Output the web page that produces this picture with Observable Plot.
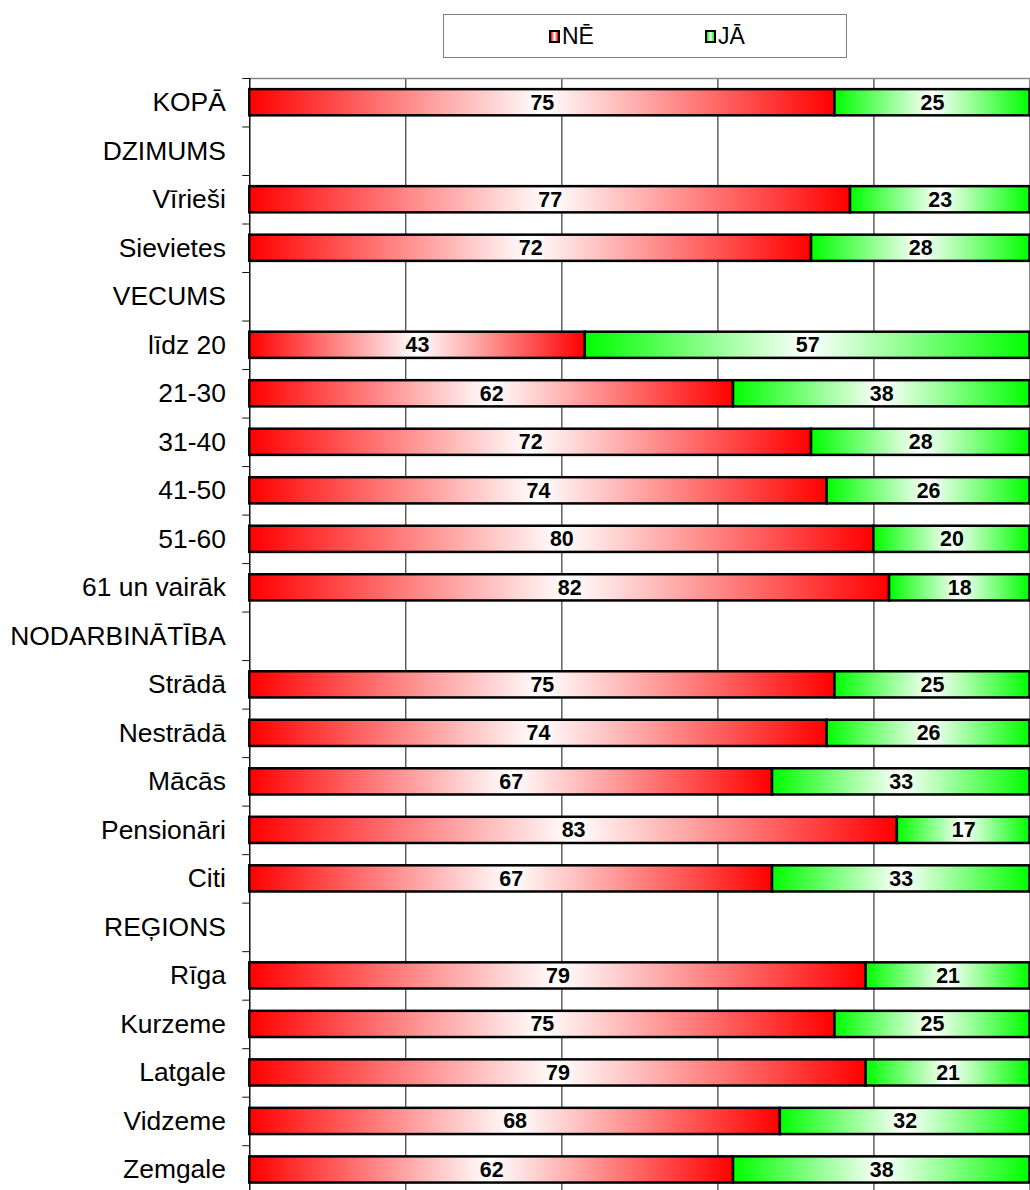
<!DOCTYPE html>
<html>
<head>
<meta charset="utf-8">
<script src="https://cdn.jsdelivr.net/npm/d3@7"></script>
<script src="https://cdn.jsdelivr.net/npm/@observablehq/plot@0.6"></script>
<style>
  html, body { margin: 0; padding: 0; background: #fff; overflow: hidden; }
  body { font-family: "Liberation Sans", Arial, sans-serif; width: 1030px; }
  #legend { position: relative; height: 70px; }
  #legend .box { position: absolute; left: 443px; top: 14px; width: 404px; height: 44px;
    border: 1px solid #808080; box-sizing: border-box; background: #fff; }
  #legend .item { position: absolute; top: 0; height: 42px; display: flex; align-items: center;
    font-size: 23px; color: #000; }
  #legend .swatch { width: 7px; height: 9px; border: 2px solid #000; margin-right: 2px; }
  #chart { position: relative; }
</style>
</head>
<body>
<div id="legend"></div>
<div id="chart"></div>
<script>
// ---- data ----
const categories = ["KOPĀ", "DZIMUMS", "Vīrieši", "Sievietes", "VECUMS", "līdz 20", "21-30", "31-40",
  "41-50", "51-60", "61 un vairāk", "NODARBINĀTĪBA", "Strādā", "Nestrādā", "Mācās", "Pensionāri",
  "Citi", "REĢIONS", "Rīga", "Kurzeme", "Latgale", "Vidzeme", "Zemgale"];
const seriesNames = ["NĒ", "JĀ"];
const ne = [75, null, 77, 72, null, 43, 62, 72, 74, 80, 82, null, 75, 74, 67, 83, 67, null, 79, 75, 79, 68, 62];
const ja = [25, null, 23, 28, null, 57, 38, 28, 26, 20, 18, null, 25, 26, 33, 17, 33, null, 21, 25, 21, 32, 38];
const gridTicks = [20, 40, 60, 80, 100];

// ---- table built from the arrays ----
const rows = categories
  .map((cat, i) => ({cat, ne: ne[i], ja: ja[i]}))
  .filter(d => d.ne != null);

// ---- legend ----
const legendColors = {"NĒ": ["#ff0000", "#ffffff", "#ff0000"], "JĀ": ["#00ff00", "#ffffff", "#00ff00"]};
const legendLeft = [548, 704];
const legend = document.getElementById("legend");
const box = document.createElement("div");
box.className = "box";
legend.appendChild(box);
seriesNames.forEach((s, k) => {
  const it = document.createElement("div");
  it.className = "item";
  it.style.left = (legendLeft[k] - 443) + "px";
  const sw = document.createElement("span");
  sw.className = "swatch";
  sw.style.background = `linear-gradient(to right, ${legendColors[s].join(",")})`;
  const tx = document.createElement("span");
  tx.textContent = s;
  it.appendChild(sw);
  it.appendChild(tx);
  box.appendChild(it);
});

// ---- chart ----
const W = 1033, H = 1127, MT = 8, MB = 0;
const step = (H - MT - MB) / categories.length;

const chart = Plot.plot({
  width: W,
  height: H,
  marginLeft: 250,
  marginRight: 0.5,
  marginTop: MT,
  marginBottom: MB,
  style: {fontFamily: "'Liberation Sans', Arial, sans-serif", color: "#000", background: "#fff", overflow: "visible"},
  x: {domain: [0, 100], axis: null},
  y: {domain: categories, paddingInner: 0.46, paddingOuter: 0.23, round: false, label: null},
  marks: [
    Plot.ruleX(gridTicks, {stroke: "#111", strokeWidth: 1}),
    Plot.ruleY([categories[0]], {dy: -step / 2, stroke: "#888", strokeWidth: 1.5}),
    Plot.ruleY(categories, {y: d => d, x1: -0.9, x2: 0, dy: -step / 2, stroke: "#111", strokeWidth: 1}),
    Plot.ruleX([0], {stroke: "#111", strokeWidth: 1.5}),
    Plot.barX(rows, {y: "cat", x1: () => 0, x2: "ne", fill: "url(#gRed)", stroke: "#000", strokeWidth: 2.5}),
    Plot.barX(rows, {y: "cat", x1: "ne", x2: d => d.ne + d.ja, fill: "url(#gGreen)", stroke: "#000", strokeWidth: 2.5}),
    Plot.text(rows, {y: "cat", x: d => d.ne / 2, text: "ne", fontSize: 21.5, fontWeight: "bold", fill: "#000"}),
    Plot.text(rows, {y: "cat", x: d => d.ne + d.ja / 2, text: "ja", fontSize: 21.5, fontWeight: "bold", fill: "#000"}),
    Plot.axisY({tickSize: 0, tickPadding: 24, fontSize: 26.5, fill: "#000", label: null})
  ]
});

const svgEl = chart.tagName.toLowerCase() === "svg" ? chart : chart.querySelector("svg");
const svg = d3.select(svgEl);
const defs = svg.insert("defs", ":first-child");
function grad(id, cols) {
  const g = defs.append("linearGradient").attr("id", id).attr("x1", "0").attr("x2", "1").attr("y1", "0").attr("y2", "0");
  cols.forEach((c, i) => g.append("stop").attr("offset", i / (cols.length - 1)).attr("stop-color", c));
}
grad("gRed", legendColors["NĒ"]);
grad("gGreen", legendColors["JĀ"]);

document.getElementById("chart").appendChild(chart);
</script>
</body>
</html>
